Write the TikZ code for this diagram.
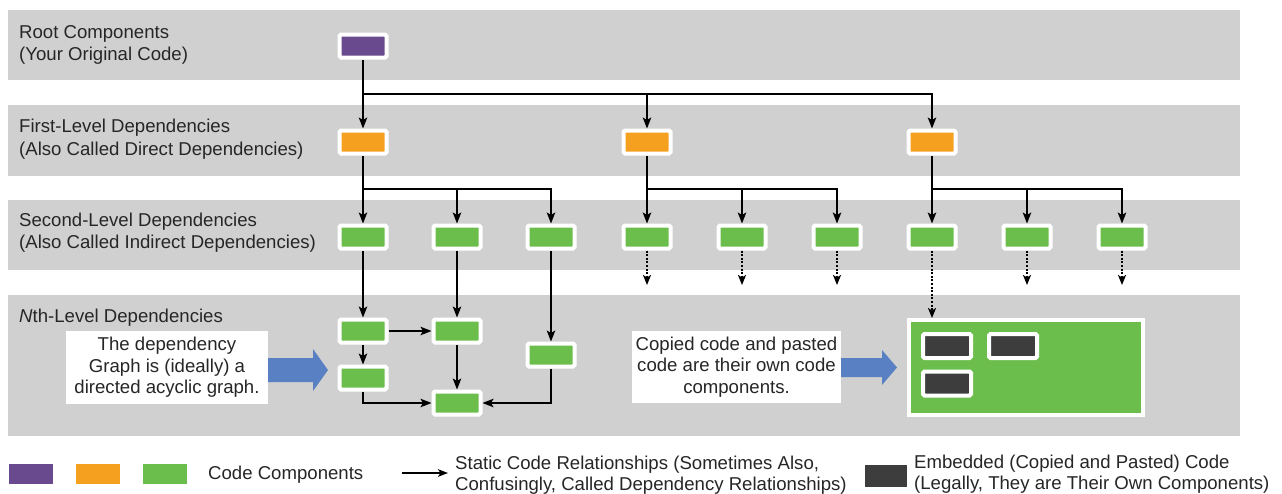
\documentclass[tikz,border=0pt]{standalone}
\usepackage{fontspec}
\setmainfont{Liberation Sans}
\usetikzlibrary{arrows.meta}
\definecolor{band}{HTML}{D0D0D0}
\definecolor{cpurple}{HTML}{6A4A8E}
\definecolor{corange}{HTML}{F5A11F}
\definecolor{cgreen}{HTML}{6BBD4C}
\definecolor{cdark}{HTML}{3D3D3D}
\definecolor{cblue}{HTML}{5A80C4}
\definecolor{ctext}{HTML}{262626}
\begin{document}
\begin{tikzpicture}[x=1pt,y=-1pt,
  comp/.style={draw=white,line width=4pt,rounded corners=1.5pt,minimum width=47pt,minimum height=23pt,inner sep=0pt},
  emb/.style={comp,fill=cdark,minimum width=48pt,minimum height=24pt},
  lbl/.style={anchor=base west,font=\fontsize{18.6}{22}\selectfont,text=ctext,inner sep=0pt},
  note/.style={fill=white,font=\fontsize{18.6}{21.5}\selectfont,text=ctext,align=center,inner sep=0pt},
  arr/.style={line width=1.8pt,-{Stealth[length=11pt,width=8.5pt,inset=2.5pt]}},
  dotarr/.style={line width=2.2pt,dash pattern=on 2pt off 1.6pt,-{Stealth[length=10pt,width=8pt,inset=2.5pt]}},
  legbox/.style={minimum width=44pt,minimum height=20pt,inner sep=0pt}
]
\useasboundingbox (0,0) rectangle (1282,493);
\fill[white] (0,0) rectangle (1282,493);

% bands
\fill[band] (8,10) rectangle (1240,80);
\fill[band] (8,105) rectangle (1240,176);
\fill[band] (8,200) rectangle (1240,270);
\fill[band] (8,295) rectangle (1240,436);

% band labels
\node[lbl] (l1a) at (19,38.6) {Root Components};
\node[lbl] (l1b) at (19,60.6) {(Your Original Code)};
\node[lbl] (l2a) at (19,132.6) {First-Level Dependencies};
\node[lbl] (l2b) at (19,155.6) {(Also Called Direct Dependencies)};
\node[lbl] (l3a) at (19,226.6) {Second-Level Dependencies};
\node[lbl] (l3b) at (19,248.6) {(Also Called Indirect Dependencies)};
\node[lbl] (l4a) at (19,322.6) {\textit{N}th-Level Dependencies};

% components
\node[comp,fill=cpurple] (r) at (363,46) {};
\node[comp,fill=corange] (o1) at (363,142) {};
\node[comp,fill=corange] (o2) at (647,142) {};
\node[comp,fill=corange] (o3) at (932,142) {};
\foreach \i/\x in {1/363,2/457,3/551,4/647,5/742,6/837,7/932,8/1027,9/1122}
  \node[comp,fill=cgreen] (g\i) at (\x,237) {};
\node[comp,fill=cgreen] (A) at (363,331) {};
\node[comp,fill=cgreen] (B) at (457,331) {};
\node[comp,fill=cgreen] (C) at (363,378) {};
\node[comp,fill=cgreen] (D) at (457,403) {};
\node[comp,fill=cgreen] (E) at (551,355) {};

% big embedded box
\node[draw=white,line width=4pt,fill=cgreen,minimum width=234pt,minimum height=95pt,inner sep=0pt] (big) at (1026,367.5) {};
\node[emb] (e1) at (947,346) {};
\node[emb] (e2) at (1013,346) {};
\node[emb] (e3) at (947,383.5) {};

% tree connectors
\coordinate (h1) at (363,94);
\coordinate (h2) at (363,189);
\coordinate (h3) at (647,189);
\coordinate (h4) at (932,189);
\draw[arr] (r) -- (o1);
\draw[arr] (h1) -| (o2);
\draw[arr] (h1) -| (o3);
\draw[arr] (o1) -- (g1);
\draw[arr] (h2) -| (g2);
\draw[arr] (h2) -| (g3);
\draw[arr] (o2) -- (g4);
\draw[arr] (h3) -| (g5);
\draw[arr] (h3) -| (g6);
\draw[arr] (o3) -- (g7);
\draw[arr] (h4) -| (g8);
\draw[arr] (h4) -| (g9);

% dotted continuations
\foreach \i/\x in {4/647,5/742,6/837,8/1027,9/1122}{
  \coordinate (d\i) at (\x,285);
  \draw[dotarr] (g\i) -- (d\i);
}
\draw[dotarr] (g7) -- (g7 |- big.north);

% Nth-level graph
\draw[arr] (g1) -- (A);
\draw[arr] (g2) -- (B);
\draw[arr] (g3) -- (E);
\draw[arr] (A) -- (B);
\draw[arr] (A) -- (C);
\draw[arr] (B) -- (D);
\draw[arr] (C) |- (D);
\draw[arr] (E) |- (D);

% blue arrows
\fill[cblue] (268,358) -- (313,358) -- (313,349) -- (328,370) -- (313,391) -- (313,382) -- (268,382) -- cycle;
\fill[cblue] (841,358) -- (882,358) -- (882,350) -- (897,367.5) -- (882,385) -- (882,377) -- (841,377) -- cycle;

% notes
\node[note,minimum width=202pt,minimum height=73pt] (t1) at (167,367.5) {The dependency\\Graph is (ideally) a\\directed acyclic graph.};
\node[note,minimum width=209pt,minimum height=72pt] (t2) at (736.5,367) {Copied code and pasted\\code are their own code\\components.};

% legend
\node[legbox,fill=cpurple] (lp) at (31,474) {};
\node[legbox,fill=corange] (lo) at (98,474) {};
\node[legbox,fill=cgreen] (lg) at (164.5,474) {};
\node[lbl] (lcc) at (208,479.6) {Code Components};
\coordinate (la1) at (402,473);
\coordinate (la2) at (448,473);
\draw[line width=1.8pt,-{Stealth[length=10pt,width=7.5pt,inset=2.5pt]}] (la1) -- (la2);
\node[lbl] (ls1) at (455,469.6) {Static Code Relationships (Sometimes Also,};
\node[lbl] (ls2) at (455,490.6) {Confusingly, Called Dependency Relationships)};
\node[legbox,fill=cdark,minimum width=42pt,minimum height=22pt] (ld) at (886,476) {};
\node[lbl] (le1) at (914,468.6) {Embedded (Copied and Pasted) Code};
\node[lbl] (le2) at (914,489.6) {(Legally, They are Their Own Components)};
\end{tikzpicture}
\end{document}
